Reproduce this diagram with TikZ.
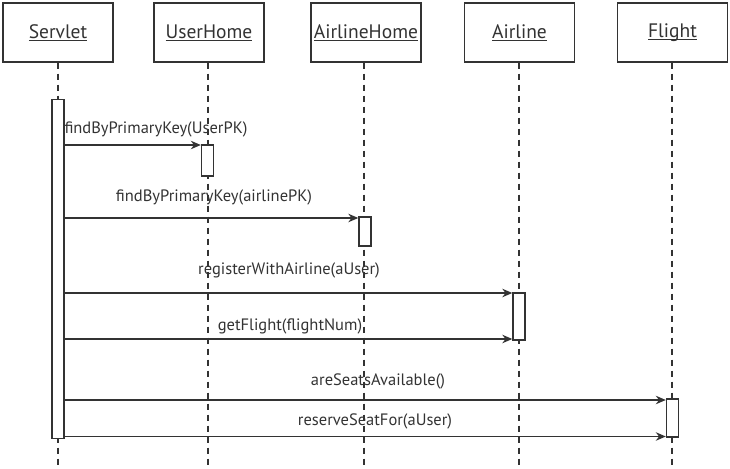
\documentclass[tikz,border=0pt]{standalone}
\usepackage{fontspec}
\setmainfont{PT Sans}
\usetikzlibrary{arrows.meta}
\newcommand\ulname[1]{\setbox0\hbox{#1}\rlap{\rule[-2.5pt]{\wd0}{1pt}}\box0}
\begin{document}
\begin{tikzpicture}[x=1pt,y=-1pt,
  ink/.style={draw=black!80,line width=1.4pt},
  objbox/.style={ink,fill=white,minimum width=110pt,minimum height=59pt,inner sep=0pt,text=black!80,font=\fontsize{19.5}{21}\selectfont},
  lifeline/.style={draw=black!80,line width=1.4pt,dash pattern=on 6pt off 5pt},
  actbox/.style={ink,fill=white,minimum width=12pt,inner sep=0pt},
  msg/.style={ink,-{Stealth[length=10pt,width=8.5pt]}},
  lbl/.style={font=\fontsize{16.5}{18}\selectfont,text=black!80,inner sep=0pt}]
\useasboundingbox (0,0) rectangle (730,468);
% object boxes
\node[objbox] (servlet) at (58,32.5) {\ulname{Servlet}};
\node[objbox] (userhome) at (209,32.5) {\ulname{UserHome}};
\node[objbox] (airlinehome) at (366,32.5) {\ulname{AirlineHome}};
\node[objbox] (airline) at (519.5,32.5) {\ulname{Airline}};
\node[objbox] (flight) at (672.5,32.5) {\ulname{Flight}};
% lifeline ends
\coordinate (servletEnd) at (58,468);
\coordinate (userhomeEnd) at (208,468);
\coordinate (airlinehomeEnd) at (364,468);
\coordinate (airlineEnd) at (519,468);
\coordinate (flightEnd) at (672,468);
\draw[lifeline] (servlet.south -| servletEnd) -- (servletEnd);
\draw[lifeline] (userhome.south -| userhomeEnd) -- (userhomeEnd);
\draw[lifeline] (airlinehome.south -| airlinehomeEnd) -- (airlinehomeEnd);
\draw[lifeline] (airline.south -| airlineEnd) -- (airlineEnd);
\draw[lifeline] (flight.south -| flightEnd) -- (flightEnd);
% activations
\node[actbox,minimum height=339pt] (actS) at (58,269) {};
\node[actbox,minimum height=31pt] (actU) at (207.5,160.5) {};
\node[actbox,minimum height=29pt] (actAH) at (365,231.5) {};
\node[actbox,minimum height=47pt] (actA) at (519,316.5) {};
\node[actbox,minimum height=38pt] (actF) at (672.5,418) {};
% messages
\coordinate (m1) at (0,145);
\coordinate (m2) at (0,218);
\coordinate (m3) at (0,293);
\coordinate (m4) at (0,339);
\coordinate (m5) at (0,400);
\coordinate (m6) at (0,436.5);
\draw[msg] (actS.east |- m1) -- (actU.west |- m1);
\draw[msg] (actS.east |- m2) -- (actAH.west |- m2);
\draw[msg] (actS.east |- m3) -- (actA.west |- m3);
\draw[msg] (actS.east |- m4) -- (actA.west |- m4);
\draw[msg] (actS.east |- m5) -- (actF.west |- m5);
\draw[msg] (actS.east |- m6) -- (actF.west |- m6);
% labels
\node[lbl] (l1) at (156,129) {findByPrimaryKey(UserPK)};
\node[lbl] (l2) at (214,197) {findByPrimaryKey(airlinePK)};
\node[lbl] (l3) at (289,270) {registerWithAirline(aUser)};
\node[lbl] (l4) at (290,326) {getFlight(flightNum)};
\node[lbl] (l5) at (378,381) {areSeatsAvailable()};
\node[lbl] (l6) at (375,421) {reserveSeatFor(aUser)};
\end{tikzpicture}
\end{document}
